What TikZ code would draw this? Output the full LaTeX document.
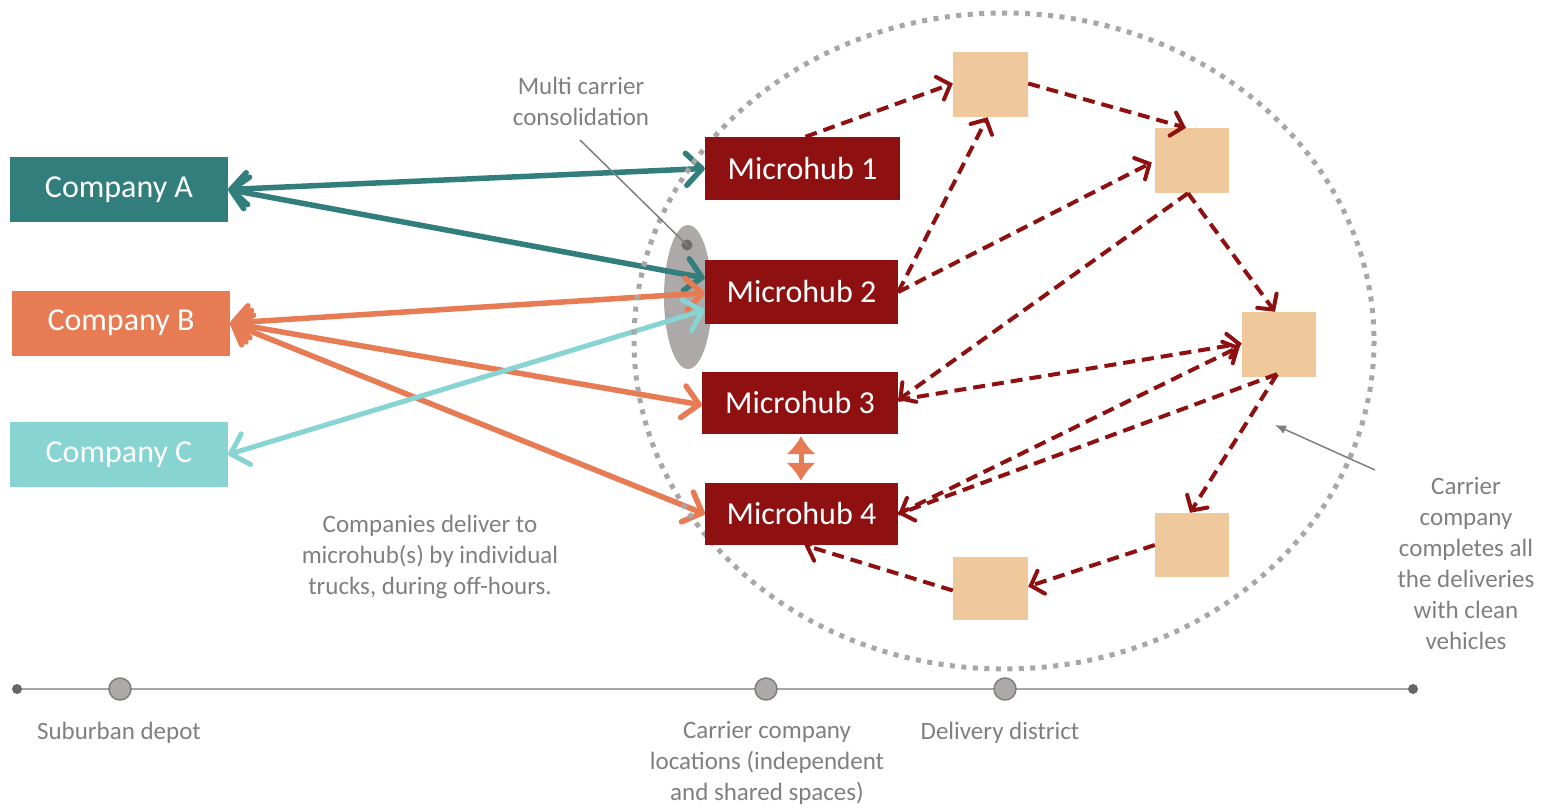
\documentclass[tikz,border=0pt]{standalone}
\usepackage{fontspec}
\setmainfont{Carlito}
\usetikzlibrary{arrows.meta,calc}
\definecolor{tealA}{HTML}{317E7D}
\definecolor{orangeB}{HTML}{E77B54}
\definecolor{tealC}{HTML}{87D4D2}
\definecolor{hubred}{HTML}{8E1011}
\definecolor{peach}{HTML}{EFC99B}
\definecolor{graytext}{HTML}{7F7F7F}
\definecolor{dotgray}{HTML}{A8A6A6}
\definecolor{consgray}{HTML}{ADA9A9}
\definecolor{linegray}{HTML}{A6A6A6}
\begin{document}
\begin{tikzpicture}[x=1pt,y=-1pt,
  hubbox/.style={rectangle, inner sep=0pt, text=white, font=\fontsize{32}{36}\selectfont},
  company/.style={hubbox, minimum width=218pt, minimum height=65pt},
  hub/.style={hubbox, fill=hubred, minimum height=63pt},
  stopbox/.style={rectangle, fill=peach, minimum width=74pt, minimum height=65pt, inner sep=0pt},
  note/.style={text=graytext, font=\fontsize{25}{31}\selectfont, align=center, inner sep=0pt},
  feed/.style={line width=5.5pt, line cap=round,
    {Straight Barb[length=16pt,width=32pt,line cap=round,line join=round]}-{Straight Barb[length=16pt,width=32pt,line cap=round,line join=round]}},
  route/.style={hubred, line width=4pt, dash pattern=on 12pt off 7pt,
    -{Straight Barb[length=11pt,width=24pt,line cap=round]}},
  leader/.style={draw=graytext, line width=1.5pt},
  tlstop/.style={circle, fill=consgray, draw=graytext, line width=1.5pt, minimum size=22pt, inner sep=0pt},
  tlend/.style={circle, fill=graytext!80!black, minimum size=10pt, inner sep=0pt}
]
\useasboundingbox (0,0) rectangle (1549,808);

% consolidation ellipse
\fill[consgray] (688,297) ellipse [x radius=24, y radius=72];
\coordinate (consdot) at (687,245);
\fill[graytext!85!black] (consdot) circle (5.5);

% nodes
\node[company, fill=tealA] (ca) at (119,189.5) {Company A};
\node[company, fill=orangeB] (cb) at (121,323) {Company B};
\node[company, fill=tealC] (cc) at (119,454.5) {Company C};

\node[hub, minimum width=195pt] (m1) at (802.5,168.5) {Microhub 1};
\node[hub, minimum width=193pt, minimum height=64pt] (m2) at (801.5,292) {Microhub 2};
\node[hub, minimum width=196pt, minimum height=62pt] (m3) at (800,403) {Microhub 3};
\node[hub, minimum width=193pt, minimum height=62pt] (m4) at (801.5,514) {Microhub 4};

% company feeds
\draw[feed, tealA] (ca.east) -- (m1.west);
\draw[feed, tealA] (ca.east) -- ($(m2.west)+(0,-14)$);
\draw[feed, orangeB] (cb.east) -- ($(m2.west)+(0,1)$);
\draw[feed, orangeB] (cb.east) -- ($(m3.west)+(0,2)$);
\draw[feed, orangeB] (cb.east) -- (m4.west);
\draw[feed, tealC, line width=5pt] (cc.east) -- ($(m2.west)+(0,18)$);

% delivery district boundary
\draw[dotgray, line width=5pt, dash pattern=on 5pt off 6.5pt] (1004,341) ellipse [x radius=370, y radius=328];

% redraw hubs on top
\node[hub, minimum width=195pt] at (m1) {Microhub 1};
\node[hub, minimum width=193pt, minimum height=64pt] at (m2) {Microhub 2};
\node[hub, minimum width=196pt, minimum height=62pt] at (m3) {Microhub 3};
\node[hub, minimum width=193pt, minimum height=62pt] at (m4) {Microhub 4};

% hub 3 <-> hub 4
\draw[orangeB, line width=5pt, {Latex[length=18pt,width=30pt]}-{Latex[length=18pt,width=30pt]}]
  ($(m3.south)+(1,2)$) -- ($(m4.north)+(-0.5,-2)$);

% delivery stops
\node[stopbox, minimum width=75pt] (b1) at (990.5,84.5) {};
\node[stopbox] (b2) at (1192,160.5) {};
\node[stopbox] (b3) at (1279,344.5) {};
\node[stopbox, minimum height=64pt] (b4) at (1192,545) {};
\node[stopbox, minimum width=75pt, minimum height=63pt] (b5) at (990.5,588.5) {};

% routes
\draw[route] ($(m1.north)+(3,0)$) -- ($(b1.west)+(0,-1)$);
\draw[route] (m2.east) -- ($(b1.south)+(-3,0)$);
\draw[route] (m2.east) -- ($(b2.west)+(-3,2)$);
\draw[route] ($(b1.east)+(0,-1)$) -- ($(b2.north)+(-6,0)$);
\draw[route] ($(b2.south)+(-4,0)$) -- ($(m3.east)+(0,-3)$);
\draw[route] ($(b2.south)+(-4,0)$) -- ($(b3.north)+(-4,0)$);
\draw[route] ($(m3.east)+(0,-3)$) -- ($(b3.west)+(0,-1)$);
\draw[route] (m4.east) -- ($(b3.west)+(-2,2)$);
\draw[route] ($(b3.south)+(-2,-3)$) -- (m4.east);
\draw[route] ($(b3.south)+(-2,-3)$) -- ($(b4.north)+(-2,0)$);
\draw[route] (b4.west) -- ($(b5.east)+(0,-2)$);
\draw[route] ($(b5.west)+(0,2)$) -- ($(m4.south)+(3,0)$);

% annotations
\node[note] (mcc) at (581,101) {Multi carrier\\consolidation};
\coordinate (mccfoot) at (580,140);
\draw[leader] (mccfoot) -- (consdot);

\node[note] (offhours) at (430,557) {Companies deliver to\\microhub(s) by individual\\trucks, during off-hours.};

\node[note] (clean) at (1466,563) {Carrier\\company\\completes all\\the deliveries\\with clean\\vehicles};
\coordinate (cleanfoot) at (1375,470);
\coordinate (cleantip) at (1275,425);
\draw[leader, -{Latex[length=11pt,width=9pt]}] (cleanfoot) -- (cleantip);

% timeline
\coordinate (tl0) at (17,689);
\coordinate (tl1) at (1413,689);
\draw[linegray, line width=2pt] (tl0) -- (tl1);
\node[tlend] at (tl0) {};
\node[tlend] at (tl1) {};
\node[tlstop] (tsub) at (120,689) {};
\node[tlstop] (tcar) at (766,689) {};
\node[tlstop] (tdel) at (1005,689) {};
\node[note] (lsub) at (119,733) {Suburban depot};
\node[note] (lcar) at (767,763) {Carrier company\\locations (independent\\and shared spaces)};
\node[note] (ldel) at (1000,733) {Delivery district};
\end{tikzpicture}
\end{document}
